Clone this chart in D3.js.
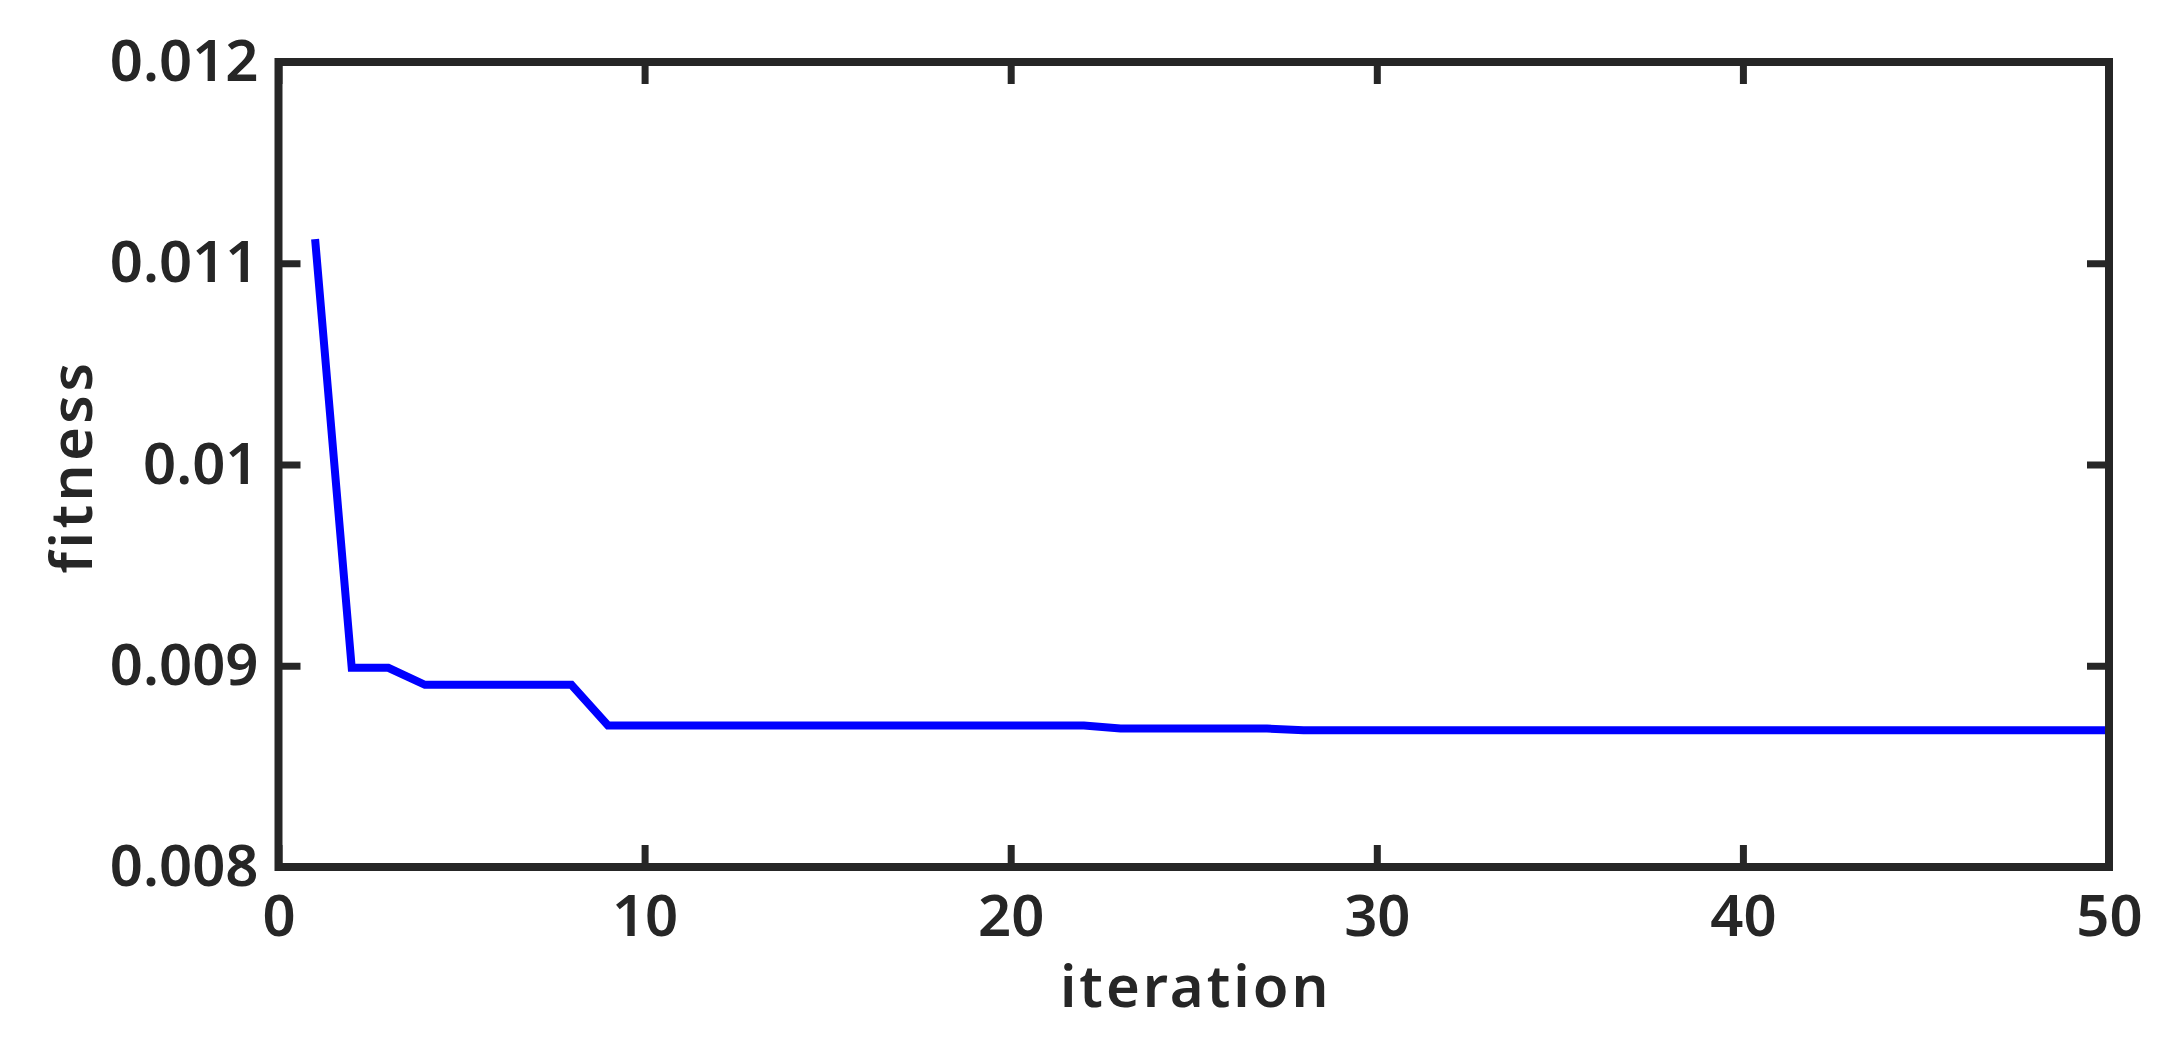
<!DOCTYPE html>
<html>
<head>
<meta charset="utf-8">
<script src="https://cdn.jsdelivr.net/npm/d3@7"></script>
<style>
  html, body { margin: 0; padding: 0; background: #fff; }
  svg { display: block; }
  text { font-family: 'Noto Sans', 'DejaVu Sans', sans-serif; fill: #262626; font-weight: 600; }
</style>
</head>
<body>
<svg id="chart" width="2177" height="1045"></svg>
<script>
// ---- data ----
const iterations = d3.range(1, 51);
const fitness = [
  0.01112, 0.00899, 0.00899, 0.008905, 0.008905, 0.008905, 0.008905, 0.008905,
  0.008703, 0.008703, 0.008703, 0.008703, 0.008703, 0.008703, 0.008703, 0.008703,
  0.008703, 0.008703, 0.008703, 0.008703, 0.008703, 0.008703,
  0.008688, 0.008688, 0.008688, 0.008688, 0.008688,
  0.00868, 0.00868, 0.00868, 0.00868, 0.00868, 0.00868, 0.00868, 0.00868,
  0.00868, 0.00868, 0.00868, 0.00868, 0.00868, 0.00868, 0.00868, 0.00868,
  0.00868, 0.00868, 0.00868, 0.00868, 0.00868, 0.00868, 0.00868
];
const xTicks = [0, 10, 20, 30, 40, 50];
const yTicks = [0.008, 0.009, 0.01, 0.011, 0.012];
const yTickLabels = ["0.008", "0.009", "0.01", "0.011", "0.012"];
const xLabel = "iteration";
const yLabel = "fitness";

// ---- layout ----
const L = 278.5, R = 2109, T = 62, B = 867;
const ink = "#262626";
const svg = d3.select("#chart");

const x = d3.scaleLinear().domain([0, 50]).range([L, R]);
const y = d3.scaleLinear().domain([0.008, 0.012]).range([B, T]);

const fontSize = 58;
const tickLen = 22;

function styleAxis(g, showLabels) {
  g.select(".domain").remove();
  g.selectAll(".tick line").attr("stroke", ink).attr("stroke-width", 7);
  g.selectAll(".tick text")
    .attr("font-size", fontSize)
    .attr("fill", ink)
    .style("display", showLabels ? null : "none");
}

// bottom axis
svg.append("g").attr("transform", `translate(0,${B})`)
  .call(d3.axisBottom(x).tickValues(xTicks).tickSize(-tickLen).tickPadding(28).tickFormat(d3.format("d")))
  .call(g => styleAxis(g, true));
// top axis (mirror ticks)
svg.append("g").attr("transform", `translate(0,${T})`)
  .call(d3.axisTop(x).tickValues(xTicks).tickSize(-tickLen))
  .call(g => styleAxis(g, false));
// left axis
svg.append("g").attr("transform", `translate(${L},0)`)
  .call(d3.axisLeft(y).tickValues(yTicks).tickSize(-tickLen).tickPadding(20)
    .tickFormat((d, i) => yTickLabels[i]))
  .call(g => styleAxis(g, true));
// right axis (mirror ticks)
svg.append("g").attr("transform", `translate(${R},0)`)
  .call(d3.axisRight(y).tickValues(yTicks).tickSize(-tickLen))
  .call(g => styleAxis(g, false));

// data line
const line = d3.line().x((d, i) => x(iterations[i])).y(d => y(d));
svg.append("path")
  .datum(fitness)
  .attr("d", line)
  .attr("fill", "none")
  .attr("stroke", "#0000ff")
  .attr("stroke-width", 8)
  .attr("stroke-linejoin", "miter");

// box
svg.append("rect")
  .attr("x", L).attr("y", T)
  .attr("width", R - L).attr("height", B - T)
  .attr("fill", "none")
  .attr("stroke", ink)
  .attr("stroke-width", 8);

// axis labels
svg.append("text")
  .attr("x", (L + R) / 2 + 2)
  .attr("y", 1007)
  .attr("text-anchor", "middle")
  .attr("font-size", fontSize)
  .attr("letter-spacing", "3px")
  .text(xLabel);

svg.append("text")
  .attr("transform", `translate(92,${(T + B) / 2 + 2}) rotate(-90)`)
  .attr("text-anchor", "middle")
  .attr("font-size", fontSize)
  .attr("letter-spacing", "3.5px")
  .text(yLabel);
</script>
</body>
</html>
